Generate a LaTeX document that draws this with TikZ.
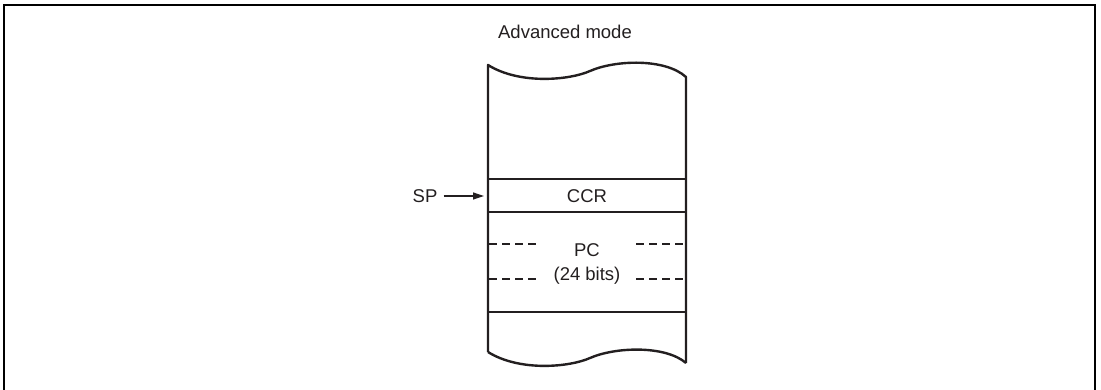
\documentclass[tikz,border=0pt]{standalone}
\usepackage{fontspec}
\setmainfont{Liberation Sans}
\usetikzlibrary{arrows.meta}
\definecolor{ink}{HTML}{231F20}
\tikzset{
  lbl/.style={font=\fontsize{18.5}{21}\selectfont, text=ink, inner sep=0pt},
  colline/.style={draw=ink, line width=2.4pt},
  dashline/.style={draw=ink, line width=1.1pt, dash pattern=on 8pt off 5pt},
  framelne/.style={draw=black, line width=2.6pt}
}
\begin{document}
\begin{tikzpicture}[x=1pt,y=-1pt]
\useasboundingbox (0,0) rectangle (1101,390);
% frame
\draw[framelne] (4,390) -- (4,5) -- (1095,5) -- (1095,390);
% title
\node[lbl] (title) at (565,32) {Advanced mode};
% column outline
\draw[colline, line join=round]
  (488,352) -- (488,65)
  .. controls (520,85) and (570,80) .. (590,71)
  .. controls (615,60) and (665,58) .. (686,77)
  -- (686,363);
\draw[colline, line join=round]
  (488,352)
  .. controls (520,372) and (570,367) .. (590,358)
  .. controls (615,347) and (665,345) .. (686,363);
% horizontal lines
\draw[colline] (488,179) -- (686,179);
\draw[colline] (488,212) -- (686,212);
\draw[colline] (488,312) -- (686,312);
% dashed lines
\draw[dashline] (489,244) -- (537,244);
\draw[dashline] (636,244) -- (686,244);
\draw[dashline] (489,279) -- (537,279);
\draw[dashline] (636,279) -- (686,279);
% texts
\node[lbl] (ccr) at (587,196) {CCR};
\node[lbl] (pc) at (587,250) {PC};
\node[lbl] (bits) at (587,276) {(24 bits)};
\node[lbl] (sp) at (425,196) {SP};
\coordinate (sptip) at (484,196);
\draw[draw=ink, line width=1.2pt, -{Triangle[length=11pt,width=7pt]}] (sp.east) ++(6,0) -- (sptip);
\end{tikzpicture}
\end{document}
